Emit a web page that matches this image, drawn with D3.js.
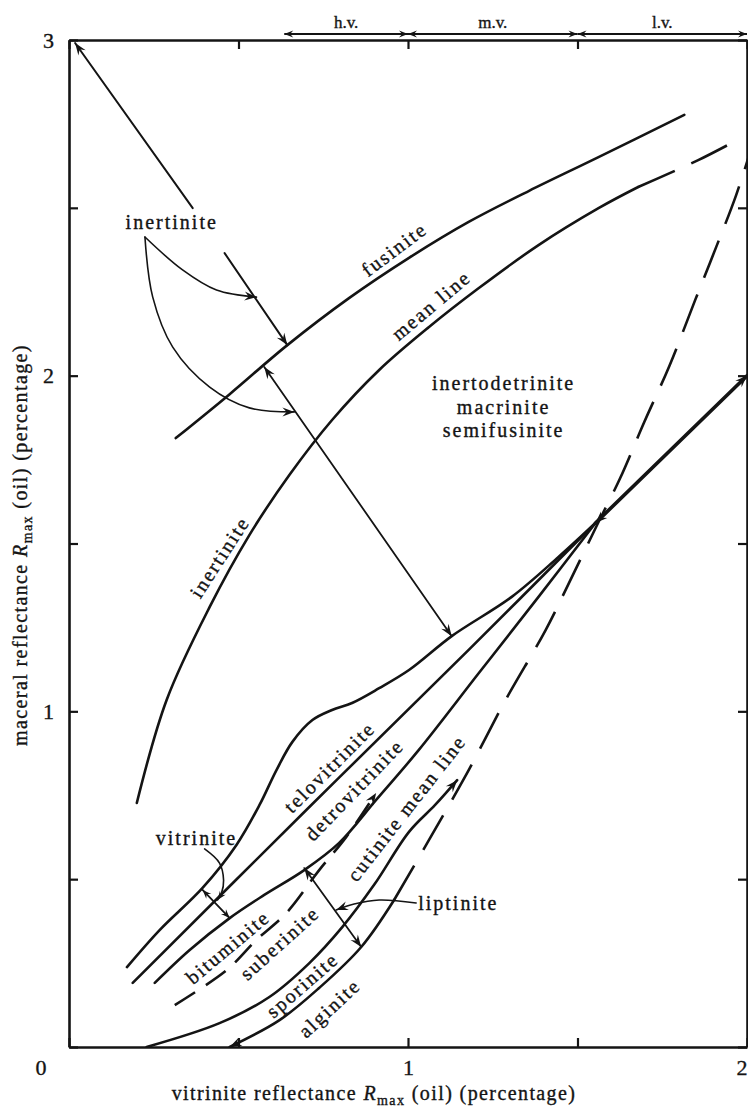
<!DOCTYPE html>
<html>
<head>
<meta charset="utf-8">
<script src="https://cdn.jsdelivr.net/npm/d3@7"></script>
<style>
  body { margin: 0; background: #fff; }
  svg text { font-family: "Liberation Serif", "Times New Roman", serif; fill: #141414;
             stroke: #141414; stroke-width: 0.35px; paint-order: stroke; }
</style>
</head>
<body>
<svg id="chart" width="748" height="1110"></svg>
<script>
// ---- reflectance data, % Rmax (oil): [vitrinite, maceral] ----
const fusinite = [[0.315,1.814],[0.474,1.945],[0.644,2.091],[0.826,2.231],[1.003,2.351],[1.179,2.458],[1.356,2.550],[1.562,2.651],[1.815,2.777]];
const inertiniteMean = [[0.200,0.727],[0.288,1.034],[0.415,1.311],[0.532,1.525],[0.650,1.704],[0.776,1.868],[0.915,2.017],[1.062,2.145],[1.209,2.261],[1.385,2.389],[1.562,2.499],[1.679,2.562]];
const inertiniteMeanExt = [[1.679,2.562],[1.856,2.642],[1.988,2.711]];
const vitriniteUpper = [[0.171,0.238],[0.268,0.349],[0.394,0.474],[0.494,0.602],[0.562,0.721],[0.612,0.825],[0.659,0.909],[0.718,0.974],[0.776,1.004],[0.835,1.025],[0.915,1.069],[1.003,1.123],[1.129,1.224],[1.306,1.341],[1.444,1.460],[1.553,1.561]];
const teloDetro = [[0.188,0.191],[0.700,0.706],[1.179,1.183],[1.553,1.561]];
const detroLower = [[0.253,0.191],[0.356,0.289],[0.474,0.384],[0.576,0.453],[0.694,0.527],[0.797,0.608],[0.906,0.736],[1.032,0.885],[1.209,1.114],[1.385,1.341],[1.553,1.561]];
const suberiniteMean = [[0.312,0.125],[0.465,0.229],[0.553,0.319],[0.641,0.399],[0.738,0.527],[0.818,0.626],[0.906,0.757]];
const cutiniteMean = [[0.229,0.000],[0.444,0.071],[0.591,0.149],[0.709,0.250],[0.806,0.357],[0.900,0.483],[1.003,0.641],[1.080,0.721],[1.145,0.795]];
const alginite = [[0.474,0.000],[0.621,0.080],[0.738,0.176],[0.862,0.298],[0.959,0.438]];
const alginiteExt = [[0.959,0.438],[1.062,0.617],[1.179,0.825],[1.288,1.034],[1.406,1.242],[1.479,1.391],[1.562,1.564],[1.626,1.695],[1.697,1.862],[1.771,2.029],[1.847,2.225],[1.909,2.383],[1.968,2.538],[2.02,2.70]];
const merged = [[1.553,1.561],[2.0,2.0]];

// ---- rank bands along the top ----
const bandNames = ["h.v.", "m.v.", "l.v."];
const bandStart = [0.635, 1.0, 1.5];
const bandEnd = [1.0, 1.5, 2.0];

// ---- ticks ----
const xTickValues = [0, 0.5, 1, 1.5, 2];
const yTickValues = [0, 0.5, 1, 1.5, 2, 2.5, 3];
const xTickText = {1: "1", 2: "2"};
const yTickText = {1: "1", 2: "2", 3: "3"};

// ---- annotation arrows (data units) ----
const arrowToCorner = [[0.365,2.499],[0.018,2.991]];
const fusiniteRange = [[0.459,2.365],[0.644,2.091]];
const inertiniteRange = [[0.576,2.026],[1.129,1.224]];
const inertCurveUpper = [[0.224,2.413],[0.335,2.315],[0.435,2.255],[0.553,2.234]];
const inertCurveLower = [[0.224,2.413],[0.247,2.234],[0.306,2.085],[0.415,1.966],[0.532,1.904],[0.665,1.892]];
const vitriniteRange = [[0.394,0.468],[0.474,0.384]];
const vitriniteCurve = [[0.400,0.590],[0.444,0.548],[0.456,0.497],[0.450,0.459],[0.438,0.438]];
const liptiniteRange = [[0.694,0.533],[0.862,0.298]];
const liptiniteCurve = [[1.024,0.429],[0.915,0.438],[0.841,0.426],[0.788,0.408]];

// ---- labels: text, position (data units), angle ----
const curveLabels = [
  ["fusinite", 0.959, 2.377, -37],
  ["mean line", 1.068, 2.210, -40],
  ["inertinite", 0.444, 1.460, -57],
  ["telovitrinite", 0.768, 0.834, -45],
  ["detrovitrinite", 0.841, 0.766, -46],
  ["cutinite mean line", 0.995, 0.712, -52],
  ["bituminite", 0.468, 0.298, -40],
  ["suberinite", 0.621, 0.310, -42],
  ["sporinite", 0.688, 0.185, -41],
  ["alginite", 0.768, 0.116, -43],
  ["inertinite", 0.303, 2.458, 0],
  ["vitrinite", 0.376, 0.623, 0],
  ["inertodetrinite", 1.282, 1.978, 0],
  ["macrinite", 1.282, 1.907, 0],
  ["semifusinite", 1.282, 1.838, 0]
];
const liptiniteLabel = ["liptinite", 1.030, 0.429];

// ---------------------------------------------------------------
const svg = d3.select("#chart");
const x = d3.scaleLinear().domain([0, 2]).range([69, 747]);
const y = d3.scaleLinear().domain([0, 3]).range([1047, 40]);
const ink = "#141414";

const defs = svg.append("defs");
function addMarker(id, len, half) {
  defs.append("marker")
    .attr("id", id)
    .attr("markerUnits", "userSpaceOnUse")
    .attr("viewBox", `${-len - 1} ${-half - 1} ${len + 2} ${2 * half + 2}`)
    .attr("markerWidth", len + 2)
    .attr("markerHeight", 2 * half + 2)
    .attr("refX", 0).attr("refY", 0)
    .attr("orient", "auto-start-reverse")
    .append("path")
    .attr("d", `M0,0L${-len},${-half}L${-len * 0.65},0L${-len},${half}Z`)
    .attr("fill", ink);
}
addMarker("head", 12, 4.5);
addMarker("headSmall", 9, 3.5);

defs.append("clipPath").attr("id", "plotClip")
  .append("rect").attr("x", x(0)).attr("y", y(3))
  .attr("width", x(2) - x(0)).attr("height", y(0) - y(3));

const smooth = d3.line().x(d => x(d[0])).y(d => y(d[1])).curve(d3.curveCatmullRom.alpha(0.5));
const straight = d3.line().x(d => x(d[0])).y(d => y(d[1]));

const plot = svg.append("g").attr("clip-path", "url(#plotClip)");

function curve(data, opts = {}) {
  const p = plot.append("path")
    .attr("d", (opts.straight ? straight : smooth)(data))
    .attr("fill", "none")
    .attr("stroke", ink)
    .attr("stroke-width", opts.w || 2.6)
    .attr("stroke-linecap", opts.dash ? "butt" : "round")
    .attr("stroke-linejoin", "round");
  if (opts.dash) p.attr("stroke-dasharray", opts.dash);
  if (opts.start) p.attr("marker-start", `url(#${opts.start})`);
  if (opts.end) p.attr("marker-end", `url(#${opts.end})`);
  return p;
}

// maceral curves
curve(fusinite);
curve(inertiniteMean);
curve(inertiniteMeanExt, {dash: "40,18"});
curve(vitriniteUpper);
curve(teloDetro);
curve(detroLower);
curve(suberiniteMean, {dash: "24,13", end: "head"});
curve(cutiniteMean, {end: "head"});
curve(alginite, {start: "head"});
curve(alginiteExt, {dash: "40,18"});
curve(merged, {straight: true, w: 3.6, start: "head", end: "head"});

// annotation arrows
curve(arrowToCorner, {straight: true, w: 2, end: "head"});
curve(fusiniteRange, {straight: true, w: 2, end: "head"});
curve(inertiniteRange, {straight: true, w: 1.8, start: "head", end: "head"});
curve(inertCurveUpper, {w: 1.6, end: "head"});
curve(inertCurveLower, {w: 1.6, end: "head"});
curve(vitriniteRange, {straight: true, w: 1.8, start: "headSmall", end: "headSmall"});
curve(vitriniteCurve, {w: 1.6, end: "headSmall"});
curve(liptiniteRange, {straight: true, w: 1.8, start: "head", end: "head"});
curve(liptiniteCurve, {w: 1.6, end: "head"});

// axes
const axisG = svg.append("g");
const styleAxis = g => {
  g.select(".domain").attr("stroke", ink).attr("stroke-width", 2.6);
  g.selectAll(".tick line").attr("stroke", ink).attr("stroke-width", 2.2);
  g.selectAll(".tick text").attr("font-size", 22).attr("fill", ink)
    .attr("font-family", '"Liberation Serif", serif');
};
axisG.append("g").attr("transform", `translate(0,${y(0)})`)
  .call(d3.axisBottom(x).tickValues(xTickValues).tickSize(-9).tickSizeOuter(0).tickPadding(12)
    .tickFormat(d => xTickText[d] || ""))
  .call(styleAxis)
  .call(g => g.selectAll(".tick text").filter(d => d === 2).attr("text-anchor", "end").attr("x", 0));
axisG.append("g").attr("transform", `translate(0,${y(3)})`)
  .call(d3.axisTop(x).tickValues(xTickValues).tickSize(-9).tickSizeOuter(0).tickFormat(""))
  .call(styleAxis);
axisG.append("g").attr("transform", `translate(${x(0)},0)`)
  .call(d3.axisLeft(y).tickValues(yTickValues).tickSize(-9).tickSizeOuter(0).tickPadding(15)
    .tickFormat(d => yTickText[d] || ""))
  .call(styleAxis);
axisG.append("g").attr("transform", `translate(${x(2)},0)`)
  .call(d3.axisRight(y).tickValues(yTickValues).tickSize(-9).tickSizeOuter(0).tickFormat(""))
  .call(styleAxis);

// shared origin label
svg.append("text").attr("x", x(0) - 28).attr("y", y(0) + 28)
  .attr("font-size", 22).attr("text-anchor", "middle").text("0");

// rank bands above the top axis
const bandY = y(3) - 6;
bandNames.forEach((name, i) => {
  svg.append("line")
    .attr("x1", x(bandStart[i])).attr("x2", x(bandEnd[i]))
    .attr("y1", bandY).attr("y2", bandY)
    .attr("stroke", ink).attr("stroke-width", 2.2)
    .attr("marker-start", "url(#headSmall)").attr("marker-end", "url(#headSmall)");
  svg.append("text")
    .attr("x", x((bandStart[i] + bandEnd[i]) / 2)).attr("y", bandY - 6)
    .attr("text-anchor", "middle").attr("font-size", 17)
    .text(name);
});

// curve and field labels
curveLabels.forEach(([t, vx, vy, ang]) => {
  svg.append("text")
    .attr("transform", `translate(${x(vx)},${y(vy)}) rotate(${ang})`)
    .attr("text-anchor", "middle").attr("dy", "0.35em")
    .attr("font-size", 20).attr("letter-spacing", 2)
    .text(t);
});
svg.append("text")
  .attr("x", x(liptiniteLabel[1])).attr("y", y(liptiniteLabel[2]))
  .attr("dy", "0.35em").attr("font-size", 20).attr("letter-spacing", 2)
  .text(liptiniteLabel[0]);

// axis titles
function title(sel, before, after) {
  sel.attr("font-size", 20).attr("letter-spacing", 1.4).attr("text-anchor", "middle");
  sel.append("tspan").text(before);
  sel.append("tspan").attr("font-style", "italic").text("R");
  sel.append("tspan").attr("font-size", 14).attr("dy", 5).text("max");
  sel.append("tspan").attr("dy", -5).text(after);
}
title(svg.append("text").attr("x", 374).attr("y", 1100),
  "vitrinite reflectance ", " (oil)  (percentage)");
title(svg.append("text").attr("transform", "translate(27,545) rotate(-90)"),
  "maceral reflectance ", " (oil)  (percentage)");
</script>
</body>
</html>
